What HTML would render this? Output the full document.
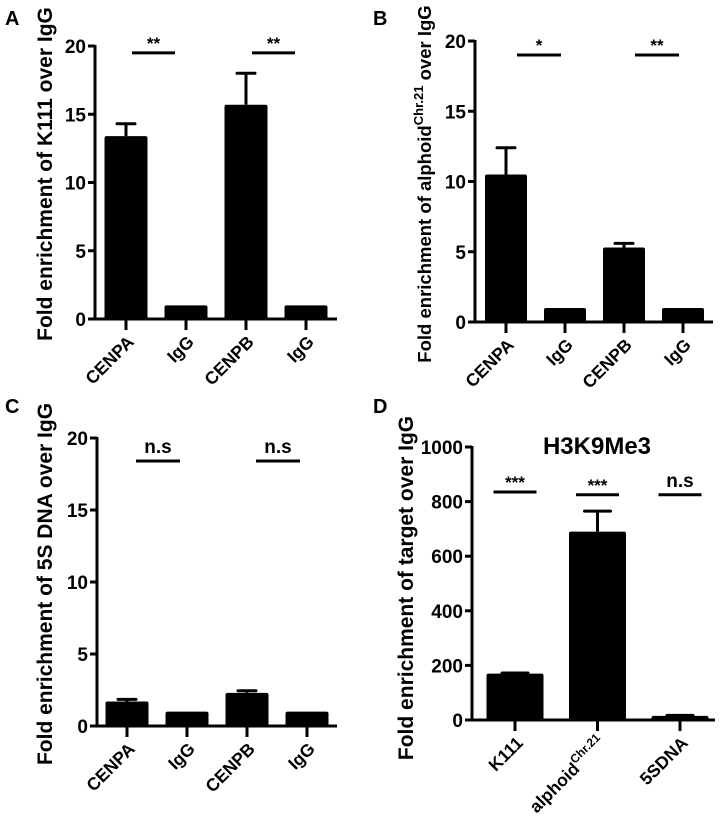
<!DOCTYPE html>
<html><head><meta charset="utf-8">
<style>
html,body{margin:0;padding:0;background:#fff;}
svg{display:block;font-family:"Liberation Sans",Arial,sans-serif;font-weight:bold;}
</style></head>
<body>
<svg id="fig" width="723" height="826" viewBox="0 0 723 826" xmlns="http://www.w3.org/2000/svg"></svg>
<script>
// Panel A
const catsA = ["CENPA","IgG","CENPB","IgG"];
const valsA = [13.4, 1, 15.7, 1];
const errA = [14.3, 1, 18.0, 1];
const sigA = [{from:0,to:1,label:"**",y:19.5},{from:2,to:3,label:"**",y:19.5}];
// Panel B
const catsB = ["CENPA","IgG","CENPB","IgG"];
const valsB = [10.5, 1, 5.3, 1];
const errB = [12.4, 1, 5.6, 1];
const sigB = [{from:0,to:1,label:"*",y:19},{from:2,to:3,label:"**",y:19}];
// Panel C
const catsC = ["CENPA","IgG","CENPB","IgG"];
const valsC = [1.7, 1, 2.3, 1];
const errC = [1.85, 1, 2.45, 1];
const sigC = [{from:0,to:1,label:"n.s",y:18.4},{from:2,to:3,label:"n.s",y:18.4}];
// Panel D
const catsD = ["K111","alphoid","5SDNA"];
const valsD = [170, 690, 15];
const errD = [172, 765, 17];
const sigD = [{from:0,to:0,label:"***",y:835},{from:1,to:1,label:"***",y:825},{from:2,to:2,label:"n.s",y:825}];
const ticks20 = [0,5,10,15,20];
const ticks1000 = [0,200,400,600,800,1000];

const NS="http://www.w3.org/2000/svg";
const svg=document.getElementById('fig');
function mk(tag,attrs,parent){const e=document.createElementNS(NS,tag);for(const k in attrs)e.setAttribute(k,attrs[k]);(parent||svg).appendChild(e);return e;}

function panel(p){
  const g=mk('g',{});
  
  
  const ys=v=>p.y0-(v-p.min)/(p.max-p.min)*(p.y0-p.yTop);
  const xc=i=>p.firstC+i*p.step;
  const L=mk('text',{x:p.letterX,y:p.letterY,'font-size':20},g);L.textContent=p.letter;
  
  
  p.vals.forEach((v,i)=>{
    const x=xc(i)-p.bw/2;
    const e=p.err[i];
    if(e>v){
      const el=mk('line',{x1:xc(i),x2:xc(i),y1:ys(v),y2:ys(e),stroke:'#000','stroke-width':3},g);
      
      
      const cap=mk('line',{x1:xc(i)-p.cap/2,x2:xc(i)+p.cap/2,y1:ys(e),y2:ys(e),stroke:'#000','stroke-width':3,'stroke-linecap':'round'},g);
      
      
    }
    const r=mk('rect',{x:x,y:ys(v),width:p.bw,height:Math.max(ys(0)-ys(v),1),fill:'#000',rx:2},g);
    
    
  });
  const ya=mk('line',{x1:p.ax,x2:p.ax,y1:p.yTop-1,y2:p.y0+1,stroke:'#000','stroke-width':3},g);
  
  
  const xa=mk('line',{x1:p.ax-6,x2:p.axEnd,y1:p.y0,y2:p.y0,stroke:'#000','stroke-width':3},g);
  
  
  p.ticks.forEach(t=>{
    const tl=mk('line',{x1:p.ax-7,x2:p.ax,y1:ys(t),y2:ys(t),stroke:'#000','stroke-width':3},g);
    
    
    const tx=mk('text',{x:p.ax-9,y:ys(t)+7,'font-size':19,'text-anchor':'end'},g);
    tx.textContent=t;
    
    
  });
  p.cats.forEach((c,i)=>{
    const tl=mk('line',{x1:xc(i),x2:xc(i),y1:p.y0,y2:p.y0+11,stroke:'#000','stroke-width':3},g);
    
    
    const tx=mk('text',{'font-size':17.5,'text-anchor':'end',transform:`translate(${xc(i)+9},${p.y0+24}) rotate(-45)`},g);
    if(c==='alphoid'){tx.innerHTML='alphoid<tspan font-size="12" dy="-8">Chr.21</tspan>';}
    else tx.textContent=c;
    
    
  });
  p.sig.forEach(s=>{
    const a=s.from===s.to? xc(s.from)-p.sigLen/2 : xc(s.from)+p.sigOff;
    const b=s.from===s.to? xc(s.from)+p.sigLen/2 : a+p.sigLen;
    const l=mk('line',{x1:a,x2:b,y1:ys(s.y),y2:ys(s.y),stroke:'#000','stroke-width':3},g);
    
    
    const t=mk('text',{x:(a+b)/2,y:ys(s.y)-(s.label==='n.s'?8:4),'font-size':s.label==='n.s'?19:17,'text-anchor':'middle'},g);
    t.textContent=s.label;
    
    
  });
  const yt=mk('text',{'font-size':p.titleSize,'text-anchor':'middle',transform:`translate(${p.titleX},${p.titleY}) rotate(-90)`},g);
  yt.innerHTML=p.yTitle;
  
  
  if(p.title){
    const tt=mk('text',{x:p.titleCx,y:p.titleCy,'font-size':24,'text-anchor':'middle'},g);
    tt.textContent=p.title;
    
    
  }
}

panel({name:'panel-a',letter:'A',letterX:5,letterY:25,cats:catsA,vals:valsA,err:errA,sig:sigA,ticks:ticks20,min:0,max:20,
  y0:319,yTop:46,ax:95,axEnd:337,firstC:126,step:60,bw:43,cap:18,sigOff:6,sigLen:43,
  yTitle:'Fold enrichment of K111 over IgG',titleSize:21,titleX:52,titleY:174});
panel({name:'panel-b',letter:'B',letterX:373,letterY:25,cats:catsB,vals:valsB,err:errB,sig:sigB,ticks:ticks20,min:0,max:20,
  y0:322,yTop:41,ax:475,axEnd:713,firstC:506,step:59,bw:42,cap:18,sigOff:11,sigLen:44,
  yTitle:'Fold enrichment of alphoid<tspan font-size="13" dy="-8">Chr.21</tspan><tspan dy="8"> over IgG</tspan>',titleSize:18.5,titleX:431,titleY:184});
panel({name:'panel-c',letter:'C',letterX:5,letterY:413,cats:catsC,vals:valsC,err:errC,sig:sigC,ticks:ticks20,min:0,max:20,
  y0:726,yTop:438,ax:97,axEnd:337,firstC:127,step:60,bw:43,cap:18,sigOff:9,sigLen:44,
  yTitle:'Fold enrichment of 5S DNA over IgG',titleSize:21,titleX:52,titleY:584});
panel({name:'panel-d',letter:'D',letterX:373,letterY:413,cats:catsD,vals:valsD,err:errD,sig:sigD,ticks:ticks1000,min:0,max:1000,
  y0:720,yTop:447,ax:472,axEnd:715,firstC:515,step:82.5,bw:57,cap:26,sigOff:0,sigLen:43,
  yTitle:'Fold enrichment of target over IgG',titleSize:21,titleX:413,titleY:588,title:'H3K9Me3',titleCx:597,titleCy:454});
</script>
</body></html>
